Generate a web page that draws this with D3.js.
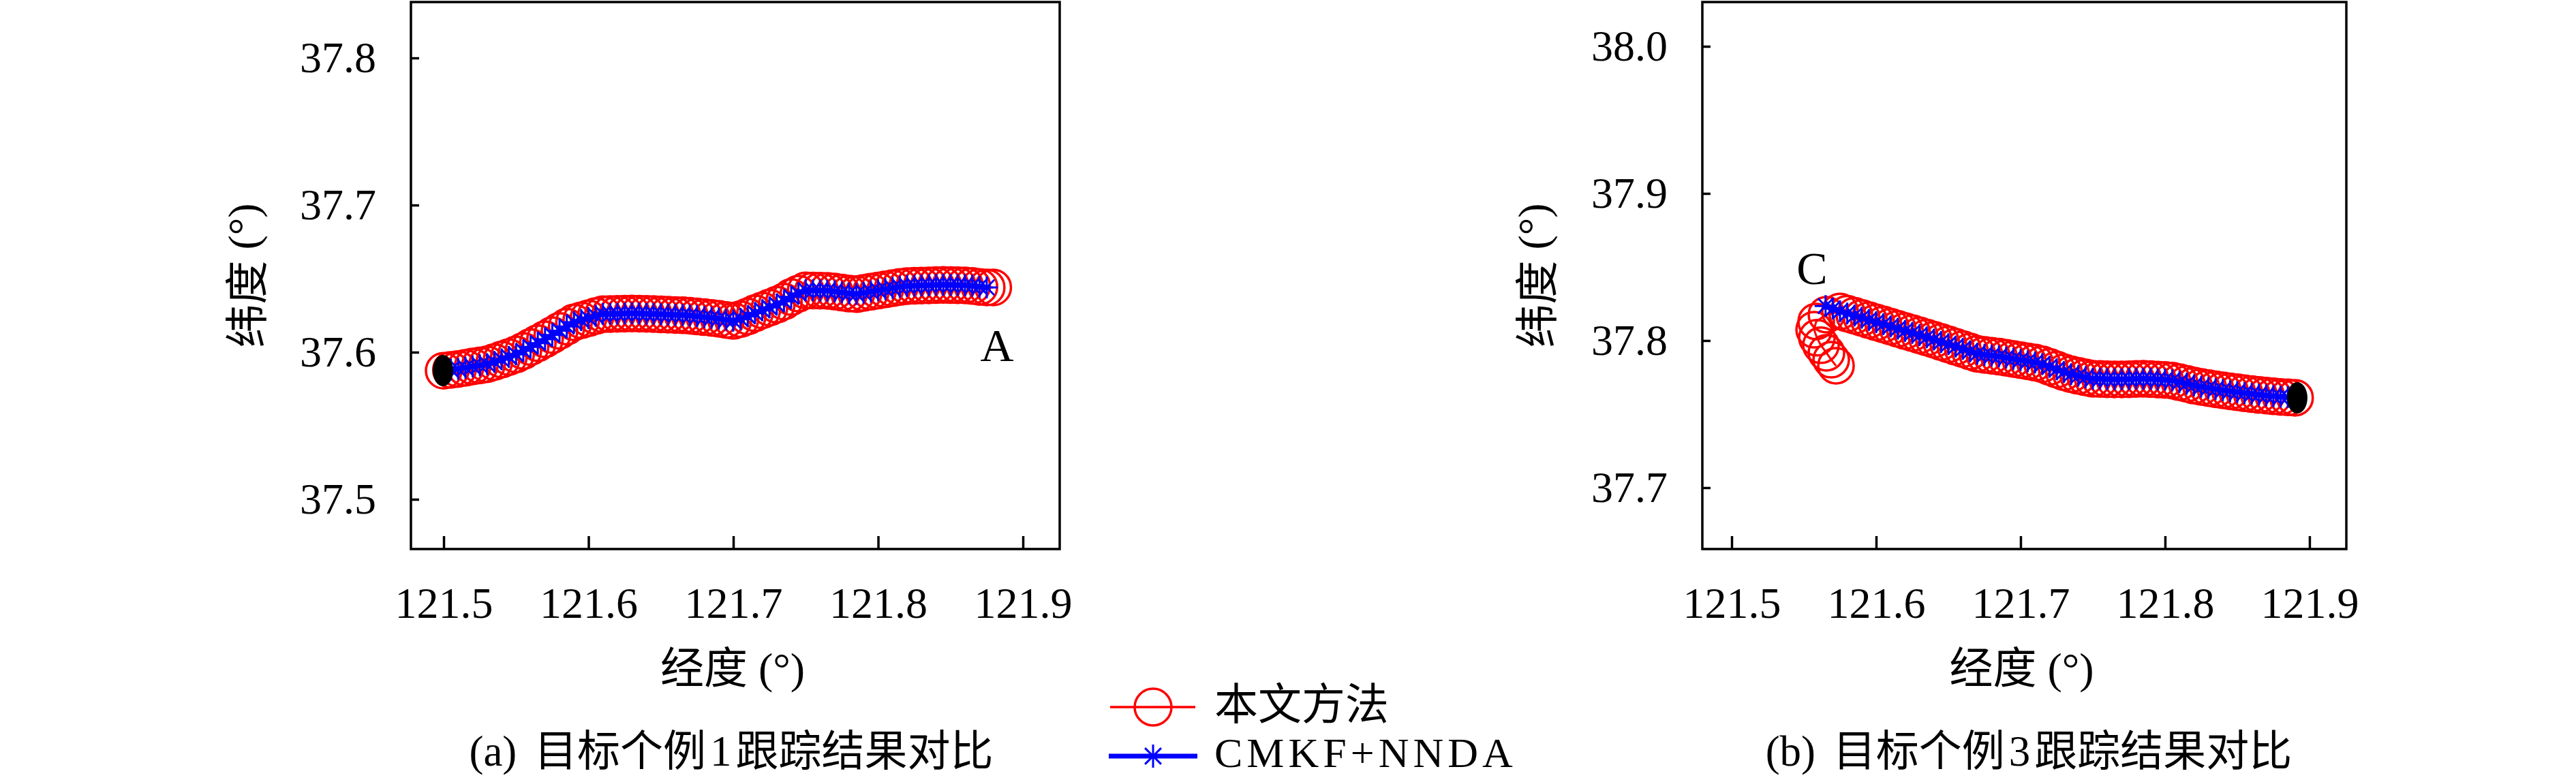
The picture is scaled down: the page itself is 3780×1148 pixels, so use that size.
<!DOCTYPE html>
<html>
<head>
<meta charset="utf-8">
<script src="https://cdn.jsdelivr.net/npm/d3@7"></script>
<style>
  body { margin: 0; background: #fff; }
</style>
</head>
<body>
<svg id="chart" width="3780" height="1148"></svg>
<script>
// ---- data ----
const xTicks = [121.5, 121.6, 121.7, 121.8, 121.9]
const yTicksA = [37.5, 37.6, 37.7, 37.8]
const yTicksB = [37.7, 37.8, 37.9, 38.0]

const xDomainA = [121.4774, 121.9254]
const yDomainA = [37.4662, 37.8380]
const xDomainB = [121.4797, 121.9255]
const yDomainB = [37.6583, 38.0301]

const seriesNames = ["本文方法", "CMKF+NNDA"]

// start points (black)
const startA = [121.4995, 37.5875]
const startB = [121.8915, 37.7611]

// case 1, CMKF+NNDA
const blueLonA = [121.500,121.505,121.510,121.515,121.520,121.525,121.530,121.535,121.540,121.545,
  121.550,121.555,121.560,121.565,121.570,121.575,121.580,121.585,121.590,121.595,
  121.600,121.605,121.610,121.615,121.620,121.625,121.630,121.635,121.640,121.645,
  121.650,121.655,121.660,121.665,121.670,121.675,121.680,121.685,121.690,121.695,
  121.700,121.705,121.710,121.715,121.720,121.725,121.730,121.735,121.740,121.745,
  121.750,121.755,121.760,121.765,121.770,121.775,121.780,121.785,121.790,121.795,
  121.800,121.805,121.810,121.815,121.820,121.825,121.830,121.835,121.840,121.845,
  121.850,121.855,121.860,121.865,121.870,121.875]
const blueLatA = [37.5876,37.5881,37.5887,37.5895,37.5903,37.5911,37.5919,37.5934,37.5951,37.5968,
  37.5985,37.6009,37.6036,37.6062,37.6088,37.6117,37.6146,37.6175,37.6204,37.6218,
  37.6232,37.6247,37.6259,37.6260,37.6261,37.6263,37.6264,37.6263,37.6261,37.6260,
  37.6258,37.6256,37.6254,37.6252,37.6249,37.6244,37.6239,37.6234,37.6228,37.6220,
  37.6214,37.6226,37.6244,37.6266,37.6285,37.6304,37.6324,37.6345,37.6376,37.6399,
  37.6421,37.6420,37.6419,37.6418,37.6413,37.6406,37.6399,37.6396,37.6404,37.6412,
  37.6420,37.6428,37.6436,37.6444,37.6450,37.6452,37.6454,37.6455,37.6457,37.6458,
  37.6457,37.6456,37.6455,37.6451,37.6445,37.6440]

// case 1, proposed method (ends a little further east, near A)
const redLonA = [121.500,121.505,121.510,121.515,121.520,121.525,121.530,121.535,121.540,121.545,
  121.550,121.555,121.560,121.565,121.570,121.575,121.580,121.585,121.590,121.595,
  121.600,121.605,121.610,121.615,121.620,121.625,121.630,121.635,121.640,121.645,
  121.650,121.655,121.660,121.665,121.670,121.675,121.680,121.685,121.690,121.695,
  121.700,121.705,121.710,121.715,121.720,121.725,121.730,121.735,121.740,121.745,
  121.750,121.755,121.760,121.765,121.770,121.775,121.780,121.785,121.790,121.795,
  121.800,121.805,121.810,121.815,121.820,121.825,121.830,121.835,121.840,121.845,
  121.850,121.855,121.860,121.865,121.870,121.875,121.8795]
const redLatA = [37.5874,37.5880,37.5886,37.5894,37.5903,37.5910,37.5918,37.5933,37.5950,37.5967,
  37.5985,37.6008,37.6035,37.6061,37.6088,37.6116,37.6145,37.6174,37.6203,37.6217,
  37.6231,37.6246,37.6258,37.6259,37.6261,37.6262,37.6263,37.6262,37.6261,37.6259,
  37.6257,37.6255,37.6253,37.6251,37.6248,37.6243,37.6238,37.6233,37.6227,37.6219,
  37.6213,37.6225,37.6243,37.6265,37.6284,37.6303,37.6323,37.6344,37.6375,37.6398,
  37.6420,37.6419,37.6418,37.6417,37.6412,37.6405,37.6398,37.6395,37.6403,37.6411,
  37.6419,37.6427,37.6435,37.6443,37.6449,37.6451,37.6453,37.6454,37.6456,37.6457,
  37.6456,37.6455,37.6454,37.6450,37.6444,37.6440,37.6440]

// case 3, CMKF+NNDA (east -> west)
const blueLonB = [121.890,121.885,121.880,121.875,121.870,121.865,121.860,121.855,121.850,121.845,
  121.840,121.835,121.830,121.825,121.820,121.815,121.810,121.805,121.800,121.795,
  121.790,121.785,121.780,121.775,121.770,121.765,121.760,121.755,121.750,121.745,
  121.740,121.735,121.730,121.725,121.720,121.715,121.710,121.705,121.700,121.695,
  121.690,121.685,121.680,121.675,121.670,121.665,121.660,121.655,121.650,121.645,
  121.640,121.635,121.630,121.625,121.620,121.615,121.610,121.605,121.600,121.595,
  121.590,121.585,121.580,121.575,121.570,121.565]
const blueLatB = [37.7612,37.7615,37.7618,37.7622,37.7627,37.7632,37.7637,37.7643,37.7650,37.7656,
  37.7663,37.7670,37.7678,37.7686,37.7695,37.7707,37.7718,37.7729,37.7734,37.7736,
  37.7739,37.7741,37.7740,37.7738,37.7737,37.7737,37.7738,37.7740,37.7741,37.7751,
  37.7761,37.7772,37.7786,37.7804,37.7822,37.7840,37.7851,37.7860,37.7868,37.7876,
  37.7884,37.7892,37.7898,37.7904,37.7911,37.7927,37.7943,37.7959,37.7975,37.7991,
  37.8007,37.8022,37.8037,37.8052,37.8066,37.8081,37.8096,37.8111,37.8125,37.8140,
  37.8155,37.8170,37.8184,37.8199,37.8217,37.8235]

// case 3, proposed method (hooks down near C)
const redLonB = [121.890,121.885,121.880,121.875,121.870,121.865,121.860,121.855,121.850,121.845,
  121.840,121.835,121.830,121.825,121.820,121.815,121.810,121.805,121.800,121.795,
  121.790,121.785,121.780,121.775,121.770,121.765,121.760,121.755,121.750,121.745,
  121.740,121.735,121.730,121.725,121.720,121.715,121.710,121.705,121.700,121.695,
  121.690,121.685,121.680,121.675,121.670,121.665,121.660,121.655,121.650,121.645,
  121.640,121.635,121.630,121.625,121.620,121.615,121.610,121.605,121.600,121.595,
  121.590,121.585,121.580,121.575,
  121.5656,121.5585,121.5571,121.5590,121.5618,121.5656,121.5689,121.5722]
const redLatB = [37.7611,37.7614,37.7617,37.7621,37.7626,37.7631,37.7636,37.7642,37.7649,37.7655,
  37.7662,37.7669,37.7677,37.7685,37.7694,37.7706,37.7717,37.7728,37.7733,37.7735,
  37.7738,37.7740,37.7739,37.7737,37.7736,37.7736,37.7737,37.7739,37.7740,37.7750,
  37.7760,37.7771,37.7785,37.7803,37.7821,37.7839,37.7850,37.7859,37.7867,37.7875,
  37.7883,37.7891,37.7897,37.7903,37.7910,37.7926,37.7942,37.7958,37.7974,37.7990,
  37.8006,37.8021,37.8036,37.8051,37.8065,37.8080,37.8095,37.8110,37.8124,37.8139,
  37.8154,37.8169,37.8183,37.8198,
  37.8176,37.8130,37.8074,37.8019,37.7968,37.7917,37.7870,37.7829]

// ---- drawing ----
const SERIF = "Liberation Serif, Times New Roman, serif"
const CJK = "Noto Sans CJK SC, sans-serif"
const RED = "#ff0000", BLUE = "#0000ff"

const svg = d3.select("#chart")

const panels = [
  { left: 603, right: 1555, top: 3, bottom: 806, xDomain: xDomainA, yDomain: yDomainA, yTicks: yTicksA,
    red: d3.zip(redLonA, redLatA), blue: d3.zip(blueLonA, blueLatA), start: startA,
    ytitleX: 357, mark: "A", markAt: [1463, 530], caption: ["(a)", "目标个例", "1", "跟踪结果对比"], capX: 1073 },
  { left: 2498, right: 3443, top: 3, bottom: 806, xDomain: xDomainB, yDomain: yDomainB, yTicks: yTicksB,
    red: d3.zip(redLonB, redLatB), blue: d3.zip(blueLonB, blueLatB), start: startB,
    ytitleX: 2250, mark: "C", markAt: [2659, 417], caption: ["(b)", "目标个例", "3", "跟踪结果对比"], capX: 2977 }
]

// matlab style '*' marker
function starPath(s) {
  const d = s * 0.7
  return "M0," + (-s) + "V" + s + "M" + (-s) + ",0H" + s +
    "M" + (-d) + "," + (-d) + "L" + d + "," + d + "M" + (-d) + "," + d + "L" + d + "," + (-d)
}

panels.forEach(function (p) {
  const x = d3.scaleLinear().domain(p.xDomain).range([p.left, p.right])
  const y = d3.scaleLinear().domain(p.yDomain).range([p.bottom, p.top])
  const line = d3.line().x(d => x(d[0])).y(d => y(d[1]))
  const g = svg.append("g")

  // proposed method: red circles
  g.append("path").attr("d", line(p.red))
    .attr("fill", "none").attr("stroke", RED).attr("stroke-width", 3)
  g.append("g").selectAll("circle")
    .data(p.red)
    .enter().append("circle")
    .attr("cx", d => x(d[0]))
    .attr("cy", d => y(d[1]))
    .attr("r", 26)
    .attr("fill", "none")
    .attr("stroke", RED)
    .attr("stroke-width", 3.5)

  // CMKF+NNDA: thick blue line with stars
  g.append("path").attr("d", line(p.blue))
    .attr("fill", "none").attr("stroke", BLUE).attr("stroke-width", 6.5)
  g.append("g").selectAll("path")
    .data(p.blue)
    .enter().append("path")
    .attr("d", starPath(16))
    .attr("transform", d => "translate(" + x(d[0]) + "," + y(d[1]) + ")")
    .attr("fill", "none")
    .attr("stroke", BLUE)
    .attr("stroke-width", 3)

  // start point
  g.append("ellipse")
    .attr("cx", x(p.start[0])).attr("cy", y(p.start[1]))
    .attr("rx", 15).attr("ry", 23)
    .attr("fill", "#000")

  // box
  g.append("rect")
    .attr("x", p.left).attr("y", p.top)
    .attr("width", p.right - p.left).attr("height", p.bottom - p.top)
    .attr("fill", "none").attr("stroke", "#000").attr("stroke-width", 3.5)

  // axes, ticks pointing inward
  const xAxis = g.append("g")
    .attr("transform", "translate(0," + p.bottom + ")")
    .call(d3.axisBottom(x).tickValues(xTicks).tickFormat(d3.format(".1f")).tickSize(-19).tickPadding(56))
  const yAxis = g.append("g")
    .attr("transform", "translate(" + p.left + ",0)")
    .call(d3.axisLeft(y).tickValues(p.yTicks).tickFormat(d3.format(".1f")).tickSize(-12).tickPadding(51))
  ;[xAxis, yAxis].forEach(function (a) {
    a.attr("font-family", SERIF)
    a.select(".domain").remove()
    a.selectAll("line").attr("stroke", "#000").attr("stroke-width", 3.5)
    a.selectAll("text").attr("font-family", SERIF).attr("font-size", 64).attr("fill", "#000")
  })

  // axis titles
  const cx = (p.left + p.right) / 2
  const xt = g.append("text")
    .attr("x", cx - 4).attr("y", 1003)
    .attr("text-anchor", "middle").attr("font-size", 64)
  xt.append("tspan").attr("font-family", CJK).text("经度")
  xt.append("tspan").attr("font-family", SERIF).text(" (°)")

  const cy = (p.top + p.bottom) / 2
  const yt = g.append("text")
    .attr("transform", "translate(" + p.ytitleX + "," + cy + ") rotate(-90)")
    .attr("text-anchor", "middle").attr("dominant-baseline", "central").attr("font-size", 64)
  yt.append("tspan").attr("font-family", CJK).text("纬度")
  yt.append("tspan").attr("font-family", SERIF).text(" (°)")

  // point label
  g.append("text")
    .attr("x", p.markAt[0]).attr("y", p.markAt[1])
    .attr("text-anchor", "middle")
    .attr("font-family", SERIF).attr("font-size", 68)
    .text(p.mark)

  // caption
  const cap = g.append("text")
    .attr("x", p.capX).attr("y", 1124)
    .attr("text-anchor", "middle").attr("font-size", 63)
  cap.append("tspan").attr("font-family", SERIF).text(p.caption[0] + " ")
  cap.append("tspan").attr("font-family", CJK).attr("dx", 10).text(p.caption[1])
  cap.append("tspan").attr("font-family", SERIF).attr("dx", 6).text(p.caption[2])
  cap.append("tspan").attr("font-family", CJK).attr("dx", 6).text(p.caption[3])
})

// ---- legend ----
const legend = svg.append("g")
legend.append("line")
  .attr("x1", 1629).attr("x2", 1754).attr("y1", 1038).attr("y2", 1038)
  .attr("stroke", RED).attr("stroke-width", 3.5)
legend.append("circle")
  .attr("cx", 1692).attr("cy", 1038).attr("r", 27)
  .attr("fill", "none").attr("stroke", RED).attr("stroke-width", 3.5)
legend.append("line")
  .attr("x1", 1627).attr("x2", 1757).attr("y1", 1110).attr("y2", 1110)
  .attr("stroke", BLUE).attr("stroke-width", 7)
legend.append("path")
  .attr("d", starPath(17))
  .attr("transform", "translate(1692,1110)")
  .attr("fill", "none").attr("stroke", BLUE).attr("stroke-width", 3)
legend.append("text")
  .attr("x", 1782).attr("y", 1056)
  .attr("font-family", CJK).attr("font-size", 64)
  .text(seriesNames[0])
legend.append("text")
  .attr("x", 1782).attr("y", 1126)
  .attr("font-family", SERIF).attr("font-size", 62).attr("letter-spacing", 6)
  .text(seriesNames[1])
</script>
</body>
</html>
